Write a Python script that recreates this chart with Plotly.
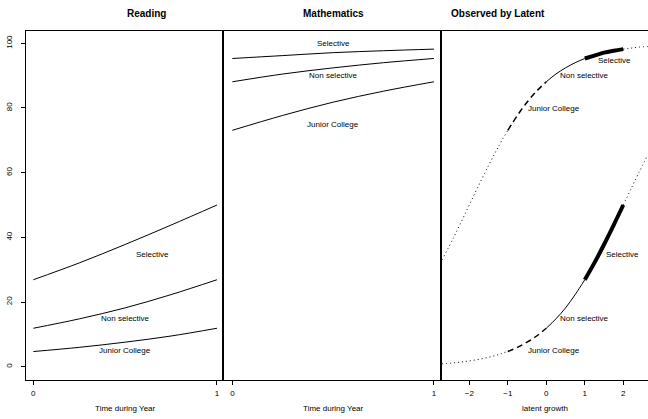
import plotly.graph_objects as go

# ---------------- data ----------------
time = [0, 0.25, 0.5, 0.75, 1]
reading_selective = [26.9, 32.1, 37.8, 43.8, 50.0]
reading_nonselective = [11.9, 14.8, 18.2, 22.3, 26.9]
reading_junior = [4.7, 6.0, 7.6, 9.5, 11.9]
math_selective = [95.3, 96.2, 97.1, 97.7, 98.2]
math_nonselective = [88.1, 90.5, 92.4, 94.0, 95.3]
math_junior = [73.1, 77.7, 81.8, 85.2, 88.1]

latent_junior = [-1, -0.75, -0.5, -0.25, 0]
latent_nonselective = [0, 0.25, 0.5, 0.75, 1]
latent_selective = [1, 1.25, 1.5, 1.75, 2]

latent_tail_low = [-2.71, -2.4, -2.1, -1.8, -1.5, -1.25, -1.0]
math_tail_low = [33.0, 40.1, 47.5, 55.0, 62.2, 67.9, 73.1]
reading_tail_low = [0.89, 1.21, 1.63, 2.19, 2.93, 3.73, 4.74]
latent_tail_high = [2.0, 2.2, 2.4, 2.64]
math_tail_high = [98.2, 98.5, 98.8, 99.0]
reading_tail_high = [50.0, 55.0, 59.9, 65.5]

y_ticks = [0, 20, 40, 60, 80, 100]
time_ticks = [0, 1]
latent_ticks = [-2, -1, 0, 1, 2]

titles = ["Reading", "Mathematics", "Observed by Latent"]
x_titles = ["Time during Year", "Time during Year", "latent growth"]

# label positions
reading_labels = [("Selective", 0.65, 34.8), ("Non selective", 0.5, 14.8), ("Junior College", 0.5, 4.9)]
math_labels = [("Selective", 0.5, 99.8), ("Non selective", 0.5, 90.1), ("Junior College", 0.5, 74.8)]
latent_labels = [("Selective", 1.78, 94.8), ("Non selective", 0.98, 89.9), ("Junior College", 0.2, 79.7),
                 ("Selective", 1.99, 34.8), ("Non selective", 0.98, 14.8), ("Junior College", 0.2, 4.9)]

FONT = "Liberation Sans, Arial, Helvetica, sans-serif"
BLACK = "#000000"

fig = go.Figure()

def line(x, y, xa, ya, width=1, dash="solid"):
    fig.add_trace(go.Scatter(x=x, y=y, xaxis=xa, yaxis=ya, mode="lines",
                             line=dict(color=BLACK, width=width, dash=dash, shape="spline"),
                             hoverinfo="skip", showlegend=False))

for ys in (reading_selective, reading_nonselective, reading_junior):
    line(time, ys, "x", "y")
for ys in (math_selective, math_nonselective, math_junior):
    line(time, ys, "x2", "y2")

# latent panel
DOT = "1px,3px"
DASH = "6px,4px"
for tail_x, tail_y in ((latent_tail_low, math_tail_low), (latent_tail_low, reading_tail_low),
                       (latent_tail_high, math_tail_high), (latent_tail_high, reading_tail_high)):
    line(tail_x, tail_y, "x3", "y3", width=1, dash=DOT)
line(latent_junior, math_junior, "x3", "y3", width=1.5, dash=DASH)
line(latent_junior, reading_junior, "x3", "y3", width=1.5, dash=DASH)
line(latent_nonselective, math_nonselective, "x3", "y3", width=1)
line(latent_nonselective, reading_nonselective, "x3", "y3", width=1)
line(latent_selective, math_selective, "x3", "y3", width=4)
line(latent_selective, reading_selective, "x3", "y3", width=4)

annotations = []
for lab, xx, yy in reading_labels:
    annotations.append(dict(text=lab, x=xx, y=yy, xref="x", yref="y", showarrow=False,
                            font=dict(size=8, family=FONT, color=BLACK)))
for lab, xx, yy in math_labels:
    annotations.append(dict(text=lab, x=xx, y=yy, xref="x2", yref="y2", showarrow=False,
                            font=dict(size=8, family=FONT, color=BLACK)))
for lab, xx, yy in latent_labels:
    annotations.append(dict(text=lab, x=xx, y=yy, xref="x3", yref="y3", showarrow=False,
                            font=dict(size=8, family=FONT, color=BLACK)))

L, T, B = 26, 31, 39
W = 648 - L
H = 419 - T - B
d1 = (224.3 - L) / W
d2 = (442 - L) / W
centers = [d1 / 2, (d1 + d2) / 2, (546.5 - L) / W]
for t, c in zip(titles, centers):
    annotations.append(dict(text="<b>" + t + "</b>", x=c, y=(380 - 13) / H, xref="paper", yref="paper",
                            showarrow=False, yanchor="middle",
                            font=dict(size=10, family=FONT, color=BLACK)))

xcommon = dict(ticks="outside", ticklen=4, tickwidth=1, tickcolor=BLACK, showline=True, mirror=True,
               linecolor=BLACK, linewidth=1, showgrid=False, zeroline=False,
               tickfont=dict(size=8, family=FONT, color=BLACK), ticklabelstandoff=1)
ycommon = dict(range=[-4.1, 103.8], showgrid=False, zeroline=False, showline=True, mirror=False,
               linecolor=BLACK)

def xtitle(t):
    return dict(text=t, font=dict(size=8, family=FONT, color=BLACK), standoff=8)

fig.update_layout(
    width=648, height=419,
    margin=dict(l=L, r=0, t=T, b=B),
    paper_bgcolor="white", plot_bgcolor="white",
    annotations=annotations,
    xaxis=dict(domain=[0, d1], anchor="y", range=[-0.04, 1.04], tickvals=time_ticks,
               title=xtitle(x_titles[0]), **xcommon),
    xaxis2=dict(domain=[d1, d2], anchor="y2", range=[-0.04, 1.04], tickvals=time_ticks,
                title=xtitle(x_titles[1]), **xcommon),
    xaxis3=dict(domain=[d2, 1], anchor="y3", range=[-2.709, 2.642], tickvals=latent_ticks,
                title=xtitle(x_titles[2]), **xcommon),
    yaxis=dict(domain=[0, 1], anchor="x", tickvals=y_ticks, tickangle=-90, ticks="outside",
               ticklen=4, tickcolor=BLACK, linewidth=1,
               tickfont=dict(size=8, family=FONT, color=BLACK), ticklabelstandoff=6, **ycommon),
    yaxis2=dict(domain=[0, 1], anchor="x2", showticklabels=False, ticks="", linewidth=1.5, **ycommon),
    yaxis3=dict(domain=[0, 1], anchor="x3", showticklabels=False, ticks="", linewidth=1.5, **ycommon),
)

fig.write_html("out.html", config={"displayModeBar": False},
               post_script="document.body.style.margin='0px';document.body.style.overflow='hidden';")
